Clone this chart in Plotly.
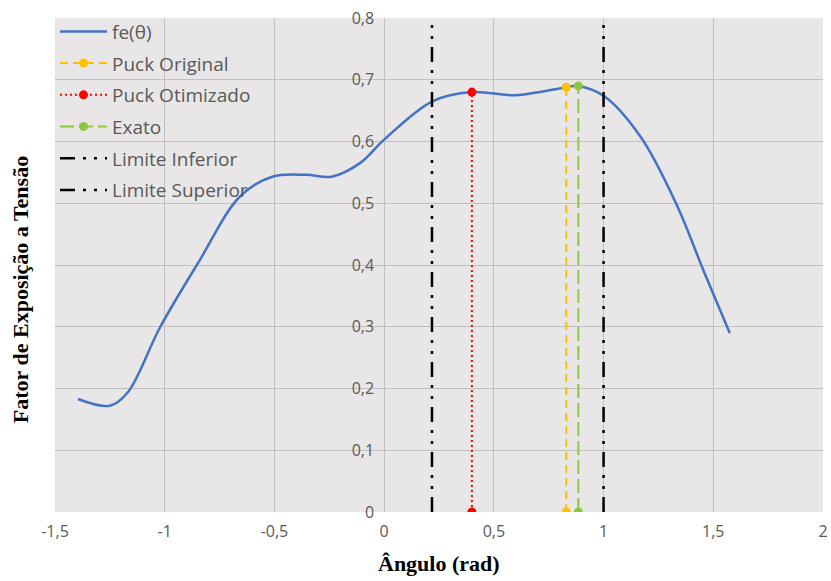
import plotly.graph_objects as go

theta = [-1.395, -1.25, -1.17, -1.02, -0.84, -0.66, -0.51, -0.355, -0.24, -0.11, 0.0, 0.22, 0.40, 0.60, 0.83, 0.88, 1.0, 1.17, 1.33, 1.46, 1.575]
fe = [0.183, 0.172, 0.193, 0.300, 0.408, 0.510, 0.543, 0.546, 0.543, 0.565, 0.603, 0.665, 0.680, 0.675, 0.688, 0.690, 0.674, 0.607, 0.500, 0.387, 0.290]

puck_original_x = 0.83
puck_original_y = [0, 0.688]
puck_otim_x = 0.40
puck_otim_y = [0, 0.680]
exato_x = 0.885
exato_y = [0, 0.690]
lim_inf_x = 0.218
lim_sup_x = 1.0
lim_y = [0, 0.8]

x_ticks = [-1.5, -1, -0.5, 0, 0.5, 1, 1.5, 2]
x_ticklabels = ["-1,5", "-1", "-0,5", "0", "0,5", "1", "1,5", "2"]
y_ticks = [0, 0.1, 0.2, 0.3, 0.4, 0.5, 0.6, 0.7, 0.8]
y_ticklabels = ["0", "0,1", "0,2", "0,3", "0,4", "0,5", "0,6", "0,7", "0,8"]

lim_dash = "15px,8px,3px,8px,3px,8px"

fig = go.Figure()
fig.add_trace(go.Scatter(x=theta, y=fe, mode="lines", name="fe(θ)",
                         line=dict(color="#4472C4", width=2.5, shape="spline", smoothing=1.0),
                         legendgroup="a"))
fig.add_trace(go.Scatter(x=[puck_original_x]*2, y=puck_original_y, mode="lines+markers", name="Puck Original",
                         line=dict(color="#FFC000", width=2, dash="8px,5px"),
                         marker=dict(size=9, color="#FFC000"), legendgroup="b"))
fig.add_trace(go.Scatter(x=[puck_otim_x]*2, y=puck_otim_y, mode="lines+markers", name="Puck Otimizado",
                         line=dict(color="#FF0000", width=2, dash="2px,3px"),
                         marker=dict(size=9, color="#FF0000"), legendgroup="c"))
fig.add_trace(go.Scatter(x=[exato_x]*2, y=exato_y, mode="lines+markers", name="Exato",
                         line=dict(color="#8DC63F", width=2, dash="14px,5px"),
                         marker=dict(size=9, color="#8DC63F"), legendgroup="d"))
fig.add_trace(go.Scatter(x=[lim_inf_x]*2, y=lim_y, mode="lines", name="Limite Inferior",
                         line=dict(color="#000000", width=2.5, dash=lim_dash),
                         legendgroup="e"))
fig.add_trace(go.Scatter(x=[lim_sup_x]*2, y=lim_y, mode="lines", name="Limite Superior",
                         line=dict(color="#000000", width=2.5, dash=lim_dash),
                         legendgroup="f"))

fig.update_layout(
    width=831, height=581,
    margin=dict(l=55, r=3, t=18, b=69),
    paper_bgcolor="white",
    plot_bgcolor="#E8E6E6",
    font=dict(family="Open Sans, Noto Sans, sans-serif", color="#595959"),
    showlegend=True,
    legend=dict(x=0.0, y=1.011, xanchor="left", yanchor="top", bgcolor="rgba(0,0,0,0)",
                font=dict(size=19, color="#595959"), tracegroupgap=4,
                itemwidth=47),
    xaxis=dict(range=[-1.5, 2], tickvals=x_ticks, ticktext=x_ticklabels,
               showgrid=True, gridcolor="#C0C0C0", gridwidth=1, zeroline=False,
               showline=False, ticks="", tickfont=dict(size=16, color="#595959"),
               ticklabelstandoff=8, ticklabeloverflow="allow", domain=[0, 1]),
    yaxis=dict(range=[0, 0.8], tickvals=y_ticks, ticktext=y_ticklabels,
               showgrid=True, gridcolor="#C0C0C0", gridwidth=1, zeroline=False,
               showline=False, ticks="", tickfont=dict(size=16, color="#595959"),
               ticklabelstandoff=10, anchor="free", position=1.5/3.5),
    annotations=[
        dict(text="<b>Ângulo (rad)</b>", x=0.5, y=-0.105, xref="paper", yref="paper",
             xanchor="center", yanchor="middle", showarrow=False,
             font=dict(family="Liberation Serif, Times New Roman, serif", size=22, color="#000000")),
        dict(text="<b>Fator de Exposição a Tensão</b>", x=-0.045, y=0.45, xref="paper", yref="paper",
             xanchor="center", yanchor="middle", showarrow=False, textangle=-90,
             font=dict(family="Liberation Serif, Times New Roman, serif", size=22, color="#000000")),
    ],
)

fig.write_html("out.html", config={"displayModeBar": False},
               post_script="document.body.style.margin='0';")
